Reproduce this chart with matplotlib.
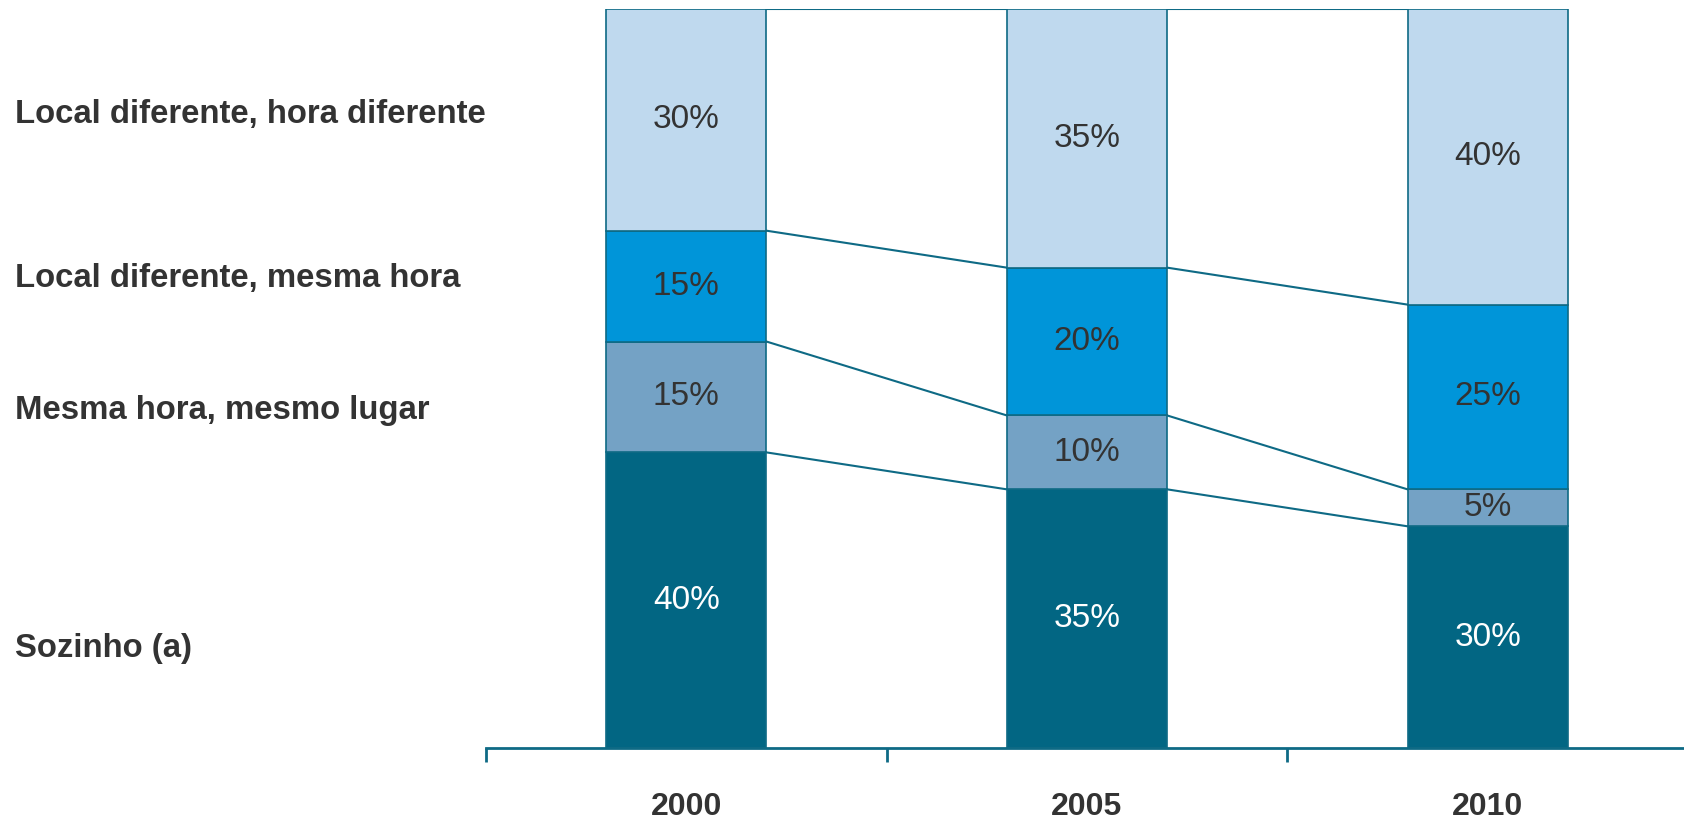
import numpy as np
import matplotlib
matplotlib.use('Agg')
import matplotlib.pyplot as plt

# Data
years = ['2000', '2005', '2010']
series = ['Sozinho (a)', 'Mesma hora, mesmo lugar',
          'Local diferente, mesma hora', 'Local diferente, hora diferente']
sozinho = [40, 35, 30]
mesmo_lugar = [15, 10, 5]
mesma_hora = [15, 20, 25]
hora_dif = [30, 35, 40]

colors = ['#026683', '#74A2C5', '#0095D9', '#BFD9EE']
txt_colors = ['white', '#333333', '#333333', '#333333']
edge = '#0E6A85'

plt.rcParams['font.family'] = ['Liberation Sans', 'DejaVu Sans']

W, H = 1684, 823
fig = plt.figure(figsize=(W / 100, H / 100), dpi=100)
# axes spans x in [-0.5, 2.5] from px 486 to 1688, y 0..100 from px 748 to 9
ax = fig.add_axes([486 / W, 1 - 748 / H, 1202 / W, 739 / H])

x = np.arange(len(years))
w = 0.40
data = [sozinho, mesmo_lugar, mesma_hora, hora_dif]
bottom = np.zeros(len(years))
for vals, c, tc in zip(data, colors, txt_colors):
    vals = np.array(vals)
    ax.bar(x, vals, w, bottom=bottom, color=c, edgecolor=edge, linewidth=1.2, zorder=2)
    for xi, b, v in zip(x, bottom, vals):
        ax.text(xi, b + v / 2, f'{v}%', ha='center', va='center',
                fontsize=24, color=tc, zorder=3)
    bottom = bottom + vals
    # connector lines between bars at the top of each segment
    for i in range(len(years) - 1):
        ax.plot([x[i] + w / 2, x[i + 1] - w / 2], [bottom[i], bottom[i + 1]],
                color=edge, linewidth=1.5, zorder=1)

ax.set_xlim(-0.5, 2.5)
ax.set_ylim(0, 100)
for s in ['top', 'right', 'left']:
    ax.spines[s].set_visible(False)
ax.spines['bottom'].set_color(edge)
ax.spines['bottom'].set_linewidth(2)
ax.set_yticks([])
ax.set_xticks(x)
ax.set_xticklabels(years, fontsize=23, fontweight='bold', color='#333333')
ax.tick_params(axis='x', which='major', length=0, pad=32)
ax.set_xticks([-0.5, 0.5, 1.5, 2.5], minor=True)
ax.tick_params(axis='x', which='minor', length=10, width=2, color=edge)

# category labels on the left
label_y = [648, 411, 278, 115]
for name, yy in zip(series, label_y):
    fig.text(15 / W, 1 - yy / H, name, ha='left', va='center',
             fontsize=23.7, fontweight='bold', color='#333333')

fig.savefig('out.png', dpi=100)
